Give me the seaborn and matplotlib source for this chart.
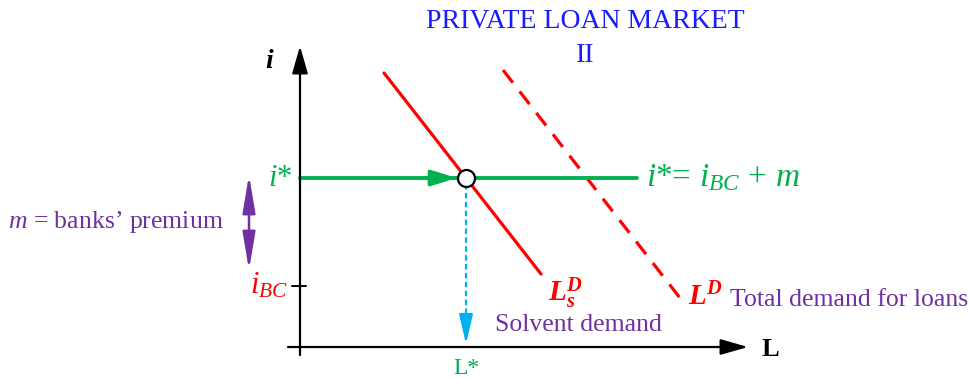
import numpy as np
import pandas as pd
import matplotlib
matplotlib.use("Agg")
import matplotlib.pyplot as plt
import seaborn as sns

# Diagram values (units: L to the right, i upward, origin at axes corner)
solvent_L = [84, 241]
solvent_i = [274, 73]
total_L = [203, 380]
total_i = [277, 49]
i_star = 169
i_bc = 61
L_star = 166
rate_line_end = 337

sns.set_theme(style="white")
plt.rcParams["font.family"] = ["Liberation Serif", "DejaVu Serif"]
plt.rcParams["mathtext.fontset"] = "custom"
plt.rcParams["mathtext.rm"] = "Liberation Serif"
plt.rcParams["mathtext.it"] = "Liberation Serif:italic"
plt.rcParams["mathtext.bf"] = "Liberation Serif:bold:italic"

RED = "#ff0000"
GREEN = "#00b050"
PURPLE = "#7030a0"
BLUE = "#00b0f0"
TITLE = "#1a1aff"

fig = plt.figure(figsize=(9.69, 3.78), dpi=100)
ax = fig.add_axes([0, 0, 1, 1])
ax.set_xlim(-300, 669)
ax.set_ylim(-31, 347)
ax.axis("off")

noshrink = dict(shrinkA=0, shrinkB=0)

# axes with arrowheads
ax.annotate("", xy=(448, 0), xytext=(-12, 0),
            arrowprops=dict(arrowstyle="-|>,head_length=1.4,head_width=0.4", color="black", lw=1.6, **noshrink))
ax.annotate("", xy=(0, 301), xytext=(0, -8),
            arrowprops=dict(arrowstyle="-|>,head_length=1.4,head_width=0.4", color="black", lw=1.6, **noshrink))
ax.text(-30, 285, "$\\mathbf{i}$", fontsize=20, ha="center", va="center", color="black")
ax.text(470, -2, "L", fontsize=19, fontweight="bold", ha="center", va="center", color="black")

# demand curves
sol = pd.DataFrame({"L": solvent_L, "i": solvent_i})
tot = pd.DataFrame({"L": total_L, "i": total_i})
sns.lineplot(data=sol, x="L", y="i", ax=ax, color=RED, lw=2.3, sort=False, estimator=None)
sns.lineplot(data=tot, x="L", y="i", ax=ax, color=RED, lw=2.3, sort=False, estimator=None)
ax.lines[-1].set_dashes([5, 3.5])

# interest rate line with arrow
rate = pd.DataFrame({"L": [0, rate_line_end], "i": [i_star, i_star]})
sns.lineplot(data=rate, x="L", y="i", ax=ax, color=GREEN, lw=2.8, sort=False, estimator=None)
ax.annotate("", xy=(L_star - 9, i_star), xytext=(L_star - 40, i_star),
            arrowprops=dict(arrowstyle="-|>,head_length=1.3,head_width=0.4", color=GREEN, lw=2.5, **noshrink))

# vertical projection to L*
proj = pd.DataFrame({"L": [L_star, L_star], "i": [i_star - 6, 20]})
sns.lineplot(data=proj, x="L", y="i", ax=ax, color=BLUE, lw=1.6, sort=False, estimator=None)
ax.lines[-1].set_dashes([2.5, 1.5])
ax.annotate("", xy=(L_star, 3), xytext=(L_star, 24),
            arrowprops=dict(arrowstyle="-|>,head_length=1.5,head_width=0.35", color=BLUE, lw=1.6, **noshrink))

# equilibrium point
eq = pd.DataFrame({"L": [L_star], "i": [i_star]})
sns.scatterplot(data=eq, x="L", y="i", ax=ax, s=150, color="white", edgecolor="black", linewidth=1.6, zorder=5)

# i_BC tick
ax.plot([-8, 6], [i_bc, i_bc], color="black", lw=1.4)

# premium double arrow
ax.annotate("", xy=(-51, 77), xytext=(-51, 172),
            arrowprops=dict(arrowstyle="<|-|>,head_length=1.9,head_width=0.32", color=PURPLE, lw=1.8, **noshrink))

# labels
ax.text(285, 325, "PRIVATE LOAN MARKET", fontsize=20, color=TITLE, ha="center", va="center")
ax.text(285, 292, "II", fontsize=20, color=TITLE, ha="center", va="center")
ax.text(-8, i_star, "$i$*", fontsize=22, color=GREEN, ha="right", va="center")
ax.text(-12, i_bc, "$i_{BC}$", fontsize=22, color=RED, ha="right", va="center")
ax.text(-292, 125, "$m$ = banks’ premium", fontsize=18.5, color=PURPLE, ha="left", va="center")
ax.text(346, i_star, "$i$*= $i_{BC}\\,+\\,m$", fontsize=24, color=GREEN, ha="left", va="center")
ax.text(L_star, -21, "L*", fontsize=17, color=GREEN, ha="center", va="center")
ax.text(248, 54, "$\\mathbf{L}_{\\mathbf{s}}^{\\mathbf{D}}$", fontsize=21, color=RED, ha="left", va="center")
ax.text(388, 50, "$\\mathbf{L}^{\\mathbf{D}}$", fontsize=21, color=RED, ha="left", va="center")
ax.text(430, 47, "Total demand for loans", fontsize=18.5, color=PURPLE, ha="left", va="center")
ax.text(195, 22, "Solvent demand", fontsize=18.5, color=PURPLE, ha="left", va="center")

fig.savefig("out.png", dpi=100)
